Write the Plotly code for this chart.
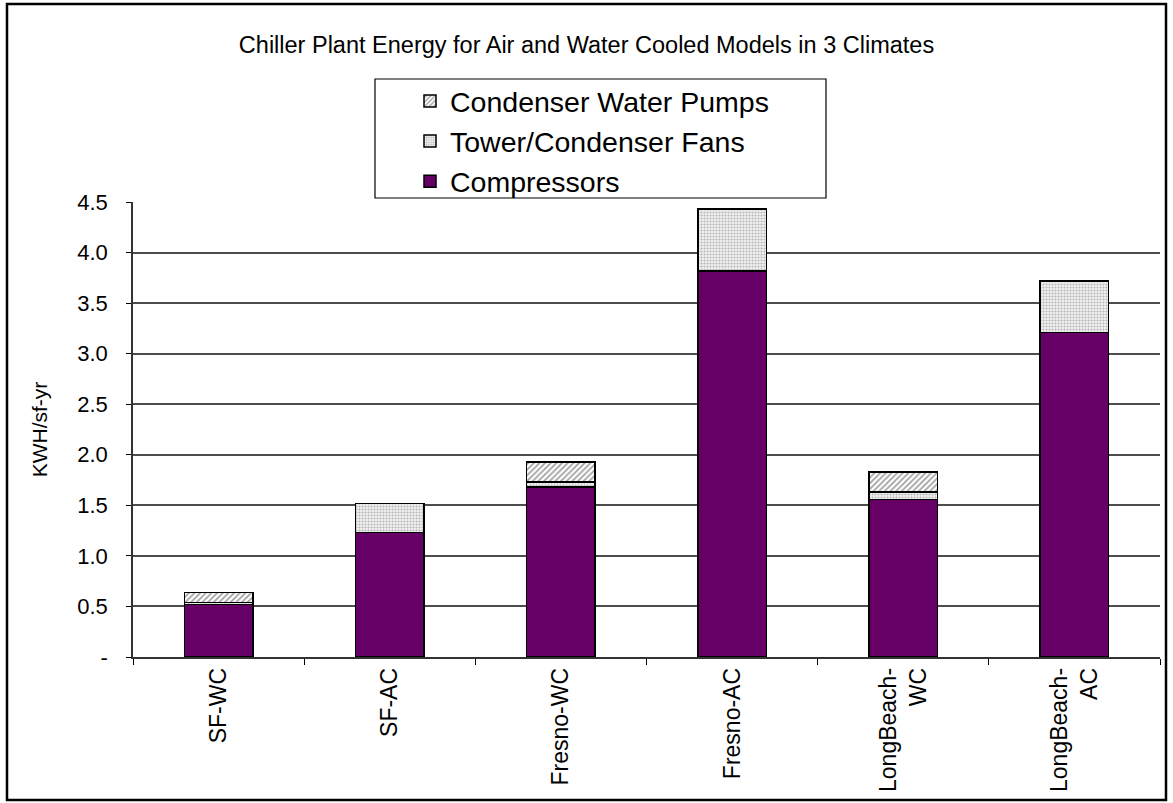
import plotly.graph_objects as go

# Chiller plant energy use, KWH per sf per year, stacked by component
categories = ["SF-WC", "SF-AC", "Fresno-WC", "Fresno-AC", "LongBeach-<br>WC", "LongBeach-<br>AC"]
compressors = [0.52, 1.23, 1.68, 3.82, 1.56, 3.21]
tower_fans = [0.02, 0.29, 0.05, 0.61, 0.07, 0.51]
cw_pumps = [0.10, 0.00, 0.20, 0.00, 0.20, 0.00]

y_ticks = [0, 0.5, 1.0, 1.5, 2.0, 2.5, 3.0, 3.5, 4.0, 4.5]
y_tick_text = ["-", "0.5", "1.0", "1.5", "2.0", "2.5", "3.0", "3.5", "4.0", "4.5"]

W, H = 1173, 803
L, R, T, B = 133, 13, 202, 146
PW, PH = W - L - R, H - T - B

def px_x(p):
    return (p - L) / PW

def px_y(p):
    return (H - B - p) / PH

FONT = "Liberation Sans, Arial, sans-serif"
outline = dict(color="black", width=1.5)

fig = go.Figure()
fig.add_trace(go.Bar(
    x=categories, y=compressors, name="Compressors", legendgroup="c", legendrank=3,
    marker=dict(color="#660066", line=outline),
))
fig.add_trace(go.Bar(
    x=categories, y=tower_fans, name="Tower/Condenser Fans", legendgroup="t", legendrank=2,
    marker=dict(color="white", line=outline,
                pattern=dict(shape=".", fgcolor="#777777", bgcolor="#f2f2f2",
                             size=3, solidity=0.4)),
))
fig.add_trace(go.Bar(
    x=categories, y=cw_pumps, name="Condenser Water Pumps", legendgroup="p", legendrank=1,
    marker=dict(color="white", line=outline,
                pattern=dict(shape="/", fgcolor="#444444", bgcolor="#ffffff",
                             size=4, solidity=0.45)),
))

fig.update_layout(
    width=W, height=H,
    margin=dict(l=L, r=R, t=T, b=B),
    barmode="stack",
    bargap=0.6,
    plot_bgcolor="white",
    paper_bgcolor="white",
    font=dict(family=FONT, color="black", size=22),
    title=dict(
        text="Chiller Plant Energy for Air and Water Cooled Models in 3 Climates",
        x=0.5, xanchor="center", y=1 - 45 / H, yanchor="middle",
        font=dict(size=23.5, family=FONT, color="black"),
    ),
    legend=dict(
        x=px_x(410), xanchor="left",
        y=px_y(76), yanchor="top",
        traceorder="grouped",
        tracegroupgap=0,
        itemwidth=30,
        font=dict(size=28.5, family=FONT, color="black"),
        bgcolor="rgba(0,0,0,0)",
        borderwidth=0,
    ),
    showlegend=True,
)

fig.update_xaxes(
    type="category",
    tickangle=-90,
    tickson="boundaries",
    ticks="outside", ticklen=6, tickcolor="black", tickwidth=1,
    showline=True, linecolor="#333333", linewidth=1.5,
    showgrid=False,
    tickfont=dict(size=23, family=FONT),
)
fig.update_yaxes(
    range=[0, 4.5],
    tickvals=y_ticks, ticktext=y_tick_text,
    ticks="outside", ticklen=5, tickcolor="black", tickwidth=1,
    ticklabelstandoff=14,
    showline=True, linecolor="#333333", linewidth=1.5,
    showgrid=True, gridcolor="#4d4d4d", gridwidth=1.6,
    zeroline=False,
    tickfont=dict(size=22, family=FONT),
    title=dict(text="KWH/sf-yr", font=dict(size=21, family=FONT), standoff=24),
)

# outer chart frame and legend box
fig.add_shape(type="rect", xref="paper", yref="paper",
              x0=px_x(7), x1=px_x(1166), y0=px_y(800), y1=px_y(4),
              line=dict(color="black", width=2.5), fillcolor="rgba(0,0,0,0)")
fig.add_shape(type="rect", xref="paper", yref="paper",
              x0=px_x(375), x1=px_x(826), y0=px_y(198), y1=px_y(79),
              line=dict(color="black", width=1.2), fillcolor="rgba(0,0,0,0)")

fig.write_html("out.html")
